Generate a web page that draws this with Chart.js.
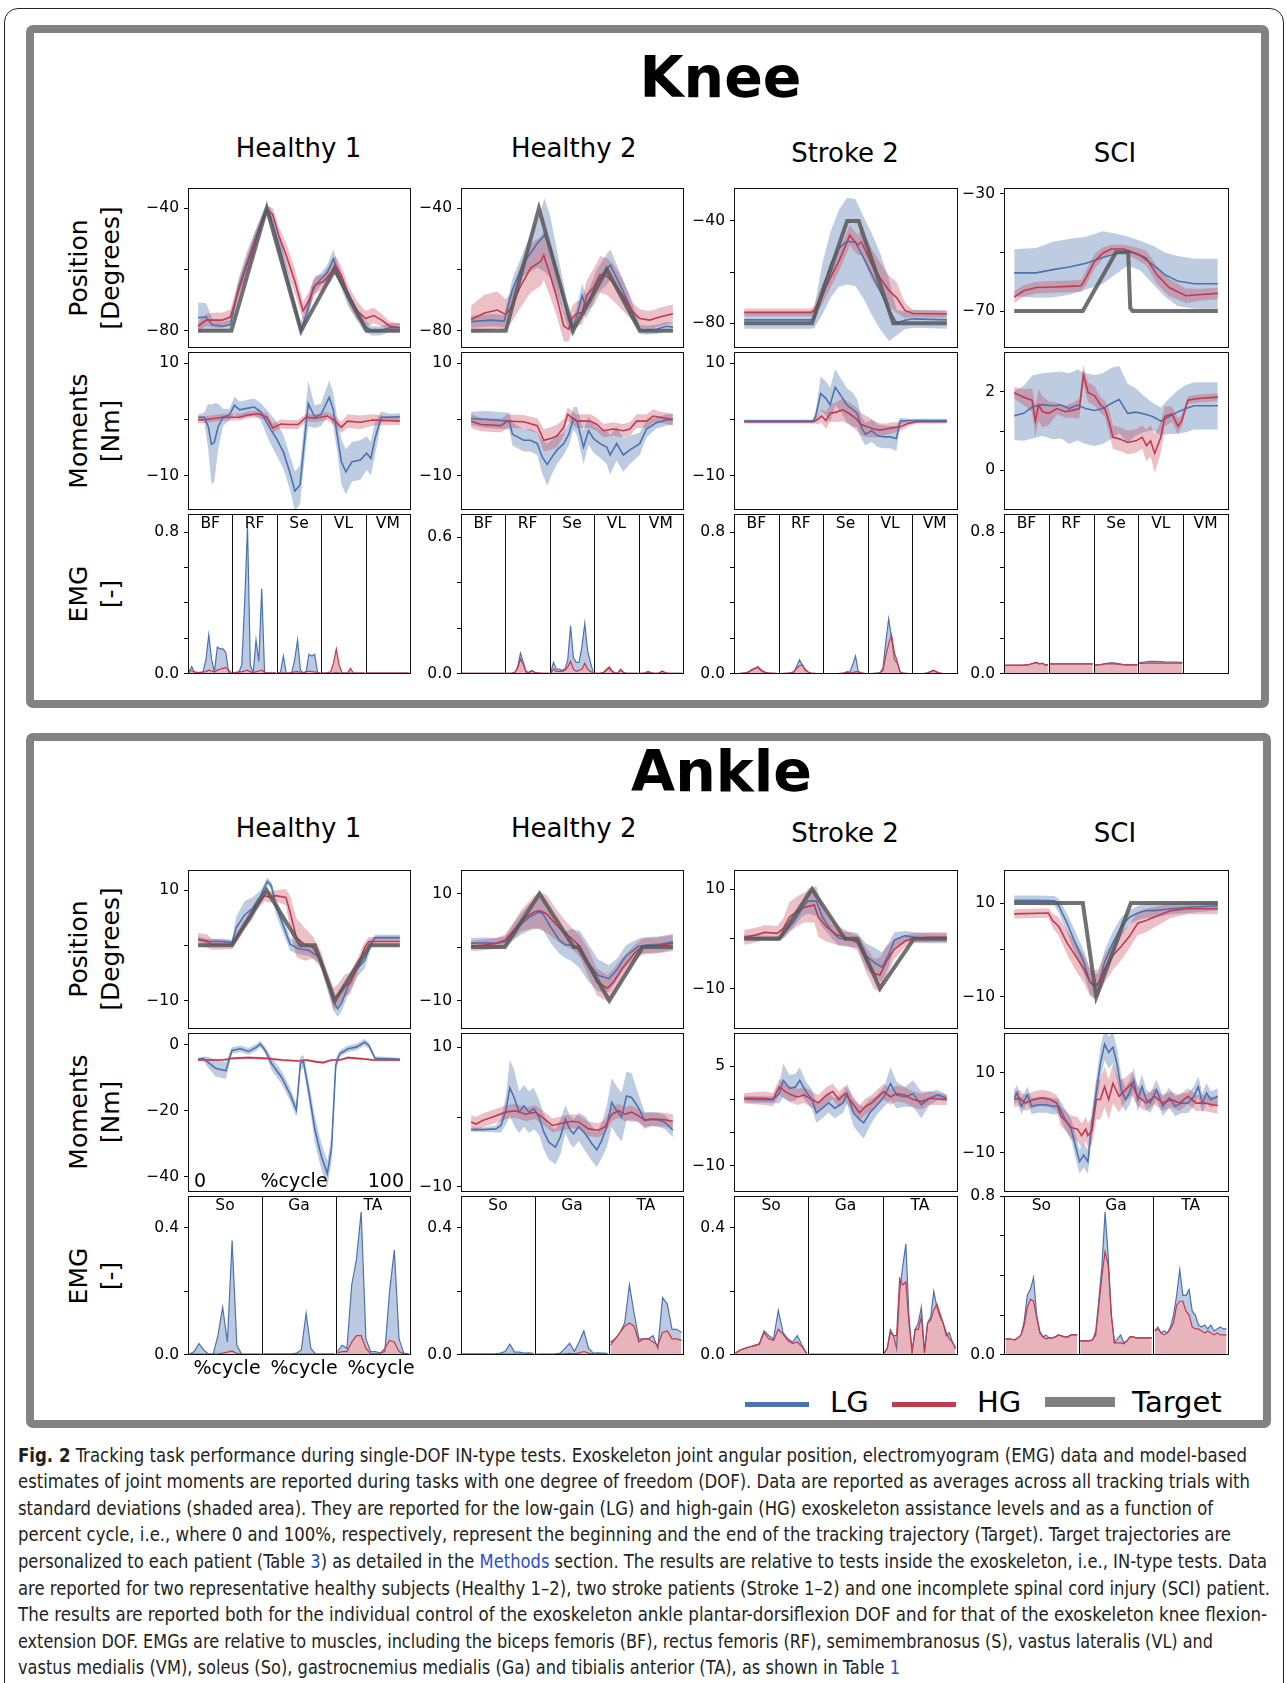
<!DOCTYPE html>
<html>
<head>
<meta charset="utf-8">
<script src="https://cdn.jsdelivr.net/npm/chart.js@4.4.1/dist/chart.umd.min.js"></script>
<style>
  body { margin:0; background:#fff; width:1287px; height:1683px; position:relative; overflow:hidden; font-family:"DejaVu Sans", sans-serif; color:#000; }
  .frame { position:absolute; left:4px; top:8px; width:1280px; height:1720px; border:1.5px solid #222; border-radius:14px; box-sizing:border-box; }
  .gbox { position:absolute; border:8px solid #828282; border-radius:7px; box-sizing:border-box; }
  .txt { position:absolute; white-space:nowrap; }
  .rowlab { position:absolute; width:240px; height:64px; font-size:25px; line-height:32px; text-align:center; transform:rotate(-90deg); white-space:nowrap; }
  .leg { position:absolute; }
  .cap { position:absolute; left:18px; font-family:"Liberation Sans Narrow","DejaVu Sans Condensed","DejaVu Sans",sans-serif; font-size:19px; line-height:19px; color:#231f20; white-space:nowrap; transform-origin:0 0; }
  .cap a { color:#2b4fc4; text-decoration:none; }
</style>
</head>
<body>
<div class="frame"></div>
<div class="gbox" style="left:26px;top:25px;width:1243px;height:683px"></div>
<div class="gbox" style="left:26px;top:733px;width:1245px;height:695px"></div>

<script>
// ---------- data: [percent cycle, mean, sd] ----------
const kneeH1PosLG = [[0,-75.7,5],[4,-75.5,4.5],[7,-78,2],[12,-78.5,1.5],[16,-78,1.5],[20,-66,3],[24,-58,3.5],[28,-50.5,2.5],[32,-43,2],[34,-40.5,1.5],[36,-43,3],[40,-52,4],[44,-62,3],[48,-72,2.5],[51,-79.5,2.5],[54,-74,3],[57,-66,2.5],[61,-63,2],[64,-61,2.5],[67,-56.5,3],[70,-62,2.5],[74,-69,2.5],[78,-74,2],[82,-78,2],[86,-80,1.5],[90,-80,1.5],[95,-79,1.5],[100,-79,1.5]];
const kneeH1PosHG = [[0,-78.5,1.5],[4,-76.5,2],[8,-76.5,2.5],[12,-76.5,2.5],[16,-75.5,2.5],[20,-67,3],[24,-59,3],[28,-51,3],[32,-44,2],[34,-40.5,1.5],[37,-42,2],[40,-49,3],[44,-56,4],[48,-64,4],[52,-73.5,3],[55,-70,3],[58,-65,3],[62,-64,2.5],[66,-61,3],[68,-58.5,3],[71,-62,3],[75,-69,3],[79,-73.5,3],[83,-76,2.5],[87,-75,2.5],[91,-76.5,2],[95,-78.5,1.5],[100,-79,1.5]];
const kneeH1PosTarget = [[0,-80],[16.5,-80],[34,-40],[51,-80],[67.6,-60],[83.5,-80],[100,-80]];

const kneeH2PosLG = [[0,-77,2],[10,-76.5,2],[16.4,-76.8,2],[20.5,-66.5,3.5],[26,-58,4],[33,-51.3,8],[36.4,-48.8,12],[39.3,-52.8,10],[44.3,-65.5,6],[47.5,-74,4],[50.5,-79,3],[52.5,-75,3],[55,-68.5,4],[56.7,-72,4],[59,-69.5,4],[62.3,-64,4],[67.2,-60,5],[69,-58.5,5],[73.8,-65,4],[78.7,-72,3],[83.6,-79.5,1.5],[86.9,-79.8,1.5],[92,-79.5,1.5],[96.7,-78.5,1.5],[100,-78.8,1.5]];
const kneeH2PosHG = [[0,-76.3,4.5],[6.6,-74.2,6],[13,-73.2,6],[17.2,-74.7,5],[19.7,-72.6,5],[24.6,-65.3,7],[29.5,-59.5,8],[34.4,-57.4,8],[36,-55.3,8],[39.3,-62.1,7],[42.6,-69.5,6],[45.9,-78.4,5],[48.4,-79.5,4],[50,-75.9,4],[52.5,-74.3,4],[54.9,-74,4],[57.4,-68.4,5],[60.7,-65.8,6],[63.9,-61.6,6],[67.2,-62.2,6],[70.5,-64.3,6],[75.4,-68.6,5],[80.3,-73.9,3],[83.6,-76,3],[88.5,-76.5,3],[93.4,-75.5,3],[100,-74.4,3]];
const kneeH2PosTarget = [[0,-80],[17.2,-80],[33.6,-40],[50.5,-80],[67.2,-60],[83.6,-80],[100,-80]];

const kneeS2PosLG = [[0,-78.7,3.5],[16,-78.7,3.5],[33,-78.7,3.5],[34.6,-78,4],[38.6,-66.5,10],[42.7,-57,13],[46.7,-50.7,15],[50.8,-47.9,17],[54.9,-48.4,17],[59,-54.5,16],[63,-60.9,16],[67,-67.3,15],[71.5,-75,12],[75.2,-79.8,5],[79.3,-78.9,3.5],[83.3,-78.3,3.5],[100,-78.7,3.5]];
const kneeS2PosHG = [[0,-75.8,1.5],[33,-75.8,1.5],[34.6,-75,2],[38.6,-68.5,4],[42.7,-62,4],[46.7,-55.8,4],[50.8,-48.2,4],[52,-45.6,4],[56,-49.4,4],[57.8,-48.2,5],[63,-57,6],[67,-62.2,6],[71.5,-67.3,6],[75.2,-70,6],[79.3,-75,3],[83.3,-76.2,1.5],[100,-76.4,1.5]];
const kneeS2PosTarget = [[0,-80],[33.5,-80],[50.8,-40],[56.5,-40],[73.6,-80],[100,-80]];

const kneeSCIPosLG = [[0,-57,8],[10.8,-57,8.5],[19,-55.9,9.5],[27,-55,9.5],[35.3,-53.7,9],[43.5,-51.8,9],[49.6,-50.6,7],[55.7,-49.6,5],[61.8,-51.1,5],[68,-54.2,6.5],[74,-57.6,7.5],[80.2,-59.8,8.5],[88.4,-60.7,8.5],[100,-60.7,8.5]];
const kneeSCIPosHG = [[0,-65.3,2],[4.7,-63.1,2],[10.8,-62,2],[19,-61.8,2],[27,-61.6,2],[32.9,-61.4,2],[35.3,-58.7,2.5],[39.4,-53.1,2.5],[43.5,-50.3,2],[47.6,-48.9,1.5],[53.7,-48.9,1.5],[59.8,-50.3,2],[64.9,-52,2.5],[70,-57.6,3],[76.1,-62,3],[84.3,-64.8,2.5],[92,-64.4,2],[100,-64,2]];
const kneeSCIPosTarget = [[0,-70],[33.7,-70],[50,-50],[56,-50],[57,-69],[58.2,-70],[100,-70]];

const kneeH1MomLG = [[0,0.4,0.5],[3,0.4,0.8],[5,-1.2,4],[6.6,-4.4,7],[8,-4.1,7],[10,-1.2,4],[12.4,0.4,1.5],[15.5,0.8,1],[18,2.5,1.5],[20.6,1.7,1.5],[24.7,2,1.5],[27.8,2.2,1.5],[31,1.4,1.5],[35,-1.2,2.5],[39,-3.5,3],[42.3,-5.8,3],[45.4,-9.3,3],[48,-12.7,3.5],[50.5,-11.6,3.5],[52.6,-4.1,3.5],[54.6,2.8,4],[57.7,0.5,2],[60.8,0.8,2],[65,3.9,3],[67,1.7,3],[69,-2.9,3],[71,-7.5,4],[73.2,-9.3,4],[76.3,-7.5,3.5],[80.4,-7.2,3.5],[83.5,-6,3],[85.6,-6.9,3],[87.6,-3.5,3],[90.7,0.4,1],[94.8,0.4,0.6],[100,0.5,0.6]];
const kneeH1MomHG = [[0,-0.1,0.6],[4,0,0.6],[12.4,0.4,0.6],[20.6,0.4,0.6],[24.7,0.8,0.6],[30,1,0.6],[34,0.4,0.7],[37,-1.5,0.8],[41,-0.8,0.8],[45,-0.9,0.8],[49.5,-0.9,0.8],[53.6,0.4,0.7],[57.7,0.2,0.7],[64,0.6,0.7],[68,-0.3,0.8],[71,-1.4,1],[74,-0.3,1.2],[80.4,-0.5,1.2],[86.6,-0.1,1],[92.8,-0.2,0.8],[100,-0.3,0.7]];

const kneeH2MomLG = [[0,0.17,1.2],[8,0,1.5],[18.9,-0.3,1.5],[20.5,-2.6,2],[23,-3.1,2],[26,-3.7,2],[29.5,-3.7,2],[32.8,-4.3,2],[35.2,-6.6,3],[37.7,-8,3.7],[40.2,-6.6,3],[42.6,-5.4,2.5],[45.9,-4.3,2],[48.4,-2.6,2],[50.8,0.2,2],[52.5,-0.3,2.5],[55.7,-4.9,3],[58.2,-2,2.5],[60.7,-3.4,2.5],[63.9,-4.3,2.5],[67.2,-4.9,3],[68.9,-6.3,3.5],[72.1,-4.3,3],[75.4,-6.3,3],[78.7,-5.4,2.5],[83.6,-4.3,2],[86.9,-1.7,1.5],[91.8,-0.6,1],[96.7,-0.1,1],[100,0,1]];
const kneeH2MomHG = [[0,-0.3,1.2],[4.9,-0.9,1.2],[14.8,-1.1,1.2],[18,-0.3,1.2],[26,-0.4,1.2],[32.8,-1.1,1.3],[36,-3.7,2],[39.3,-3.4,2],[42.6,-2.9,2],[45.9,-1.4,1.5],[47.9,0.9,1.2],[50,0.3,1.2],[52.5,-0.3,1.2],[59,-0.3,1.2],[62.3,-0.9,1.2],[65.6,-2,1.2],[70.5,-1.7,1.2],[75.4,-2,1.2],[78.7,-1.7,1.2],[82,-0.3,1.2],[86.9,-0.3,1.2],[90.2,0.6,1.2],[93.4,0.4,1],[100,0,1]];

const kneeS2MomLG = [[0,-0.3,0.3],[34,-0.3,0.3],[35.3,0.6,1],[37.8,4.6,3],[40.4,3.7,3],[42.4,2.6,3],[44.9,5.7,3.2],[47.6,4.3,3],[50.6,2.6,3],[53.7,1.7,3],[55.7,1.1,2.5],[57.8,-1.4,2],[59.8,-2.6,2],[62.9,-2,2],[65.9,-2.9,2],[69,-3.1,2],[72,-3.1,2],[75.1,-3.4,2.2],[77,-0.3,0.6],[81,-0.2,0.3],[100,-0.2,0.3]];
const kneeS2MomHG = [[0,-0.4,0.3],[34,-0.4,0.3],[36.3,0,0.8],[38.2,0.6,1.2],[40.4,-0.2,1.5],[42.4,1.1,1.5],[45.5,1.3,1.8],[48.6,1.7,2],[51.6,1.1,2],[54.7,0.3,2],[57.8,-0.9,2],[60.8,-1.3,1.8],[63.9,-1.7,1.5],[67,-1.9,1.2],[70,-1.7,1],[73,-1.5,1],[77,-1.3,0.8],[81,-0.7,0.5],[85,-0.4,0.3],[100,-0.4,0.3]];

const kneeSCIMomLG = [[0,1.39,0.62],[4.7,1.45,0.7],[8.8,1.61,0.8],[13.9,1.67,0.8],[19,1.64,0.85],[23,1.66,0.85],[27,1.57,0.9],[31,1.66,0.9],[35,1.57,0.9],[39.4,1.52,0.9],[43.5,1.57,0.9],[47.6,1.7,0.9],[51.6,1.8,0.85],[55.7,1.45,0.75],[59.8,1.48,0.6],[63.9,1.43,0.45],[68,1.37,0.35],[72,1.25,0.35],[76,1.37,0.45],[80.2,1.48,0.55],[84.3,1.57,0.6],[88.4,1.64,0.6],[94.5,1.64,0.6],[100,1.64,0.6]];
const kneeSCIMomHG = [[0,1.97,0.15],[4.7,1.86,0.2],[8.8,1.78,0.3],[10.4,1.25,0.4],[12,1.66,0.4],[13.9,1.49,0.4],[17,1.45,0.3],[21,1.57,0.15],[25,1.49,0.15],[29,1.53,0.2],[32,1.57,0.25],[34,2.43,0.25],[36.3,1.98,0.25],[39.4,1.9,0.25],[42.4,1.66,0.2],[44.5,1.57,0.2],[46.5,1.25,0.3],[48.5,0.84,0.3],[51.6,0.8,0.3],[55.7,0.71,0.3],[59.8,0.75,0.3],[62.9,0.84,0.3],[65,0.63,0.4],[67,0.75,0.4],[69,0.43,0.5],[72,0.84,0.4],[74,1.37,0.25],[77.5,1.43,0.2],[80.5,1.12,0.2],[82.2,1.25,0.15],[85.3,1.78,0.1],[89.4,1.82,0.1],[93.5,1.84,0.1],[100,1.86,0.1]];

const anklH1PosLG = [[0,1.1,0.5],[4,0.7,0.5],[12,0.7,0.5],[16.8,0.5,0.5],[18.9,3.2,2],[23,5.5,2.5],[27,6.7,2],[31,9,1],[34.3,11.6,0.7],[36.3,10.8,0.7],[38.4,7.3,1.5],[41.5,4.3,1.5],[45.6,0.2,1.2],[49.7,-0.6,1],[54.8,-0.9,1],[60,-2.1,1],[64,-6.8,1.2],[67.1,-10.3,1.5],[69.2,-11.5,1.5],[71.3,-10.3,1.5],[74.3,-7.4,1.5],[78.4,-4.4,1.5],[82.5,-2.7,1.5],[85.6,0.2,0.8],[87.7,1.4,0.5],[100,1.4,0.5]];
const anklH1PosHG = [[0,1.1,1.2],[4.5,0.8,1.2],[6.6,0.2,1],[16.8,0.1,0.8],[21,2.6,1],[25,4.9,1],[29,7.3,1],[33,9,1],[35.3,8.7,1],[38.4,9,1],[43.5,8.7,1.5],[45.6,6,3],[48.7,1.4,3.5],[52.8,0.2,3],[56.9,-0.4,2],[61,-2.7,1.5],[64,-6.2,1.5],[67.1,-9.7,2],[69.2,-9.1,2],[72.3,-7.4,2],[75.4,-6.8,2],[78.4,-4.4,1.5],[82.5,-0.4,1],[84.6,0.7,0.8],[100,0.7,0.8]];
const anklH1PosTarget = [[0,0],[16.8,0],[33.9,10],[50.7,0],[57.9,0],[67.8,-10],[85.2,0],[100,0]];

const anklH2PosLG = [[0,0.7,1],[6.2,0.8,1],[12.4,0.7,1],[16.8,1,1],[21,2.8,1.5],[25,4.4,2],[29,5.6,2.5],[33.3,6.5,3],[35.4,6.3,3],[39.5,3.7,3],[43.7,1.3,2.5],[46.8,0.4,2.5],[49.7,0.4,3],[54,-0.5,3.5],[58,-2.9,3.5],[63,-5.3,3],[68.3,-5.9,2.5],[72.5,-4.1,2],[76.6,-1.7,2],[82.8,0.1,1.5],[87,0.4,1.5],[93,0.5,1.5],[100,1,1.5]];
const anklH2PosHG = [[0,0.2,1],[6.2,0.4,1],[12.4,0.7,1],[16.8,1.3,1],[21,3.1,1.5],[25,5,2],[31,6.5,3],[34,6.8,3.5],[37.5,6.2,3.5],[41.6,4.4,3],[45.8,2.8,2.5],[49.9,1.6,2],[54,0.1,2],[58,-2.9,2.5],[62.3,-6.5,2.5],[67.5,-7.7,2.5],[70.6,-6.5,2.5],[74.7,-4.1,2],[81,-1.1,1.5],[85,0.1,1.5],[92,0.3,1.5],[100,0.7,1.5]];
const anklH2PosTarget = [[0,0],[16.8,0],[33.9,10],[50.9,0],[53,0],[68.5,-10],[85,0],[100,0]];

const anklS2PosLG = [[0,0.3,0.5],[10.2,0.1,0.5],[17.3,0.1,0.5],[20.3,1.4,1],[24.4,3.4,1],[28.5,6,1.5],[31.5,7.6,2.5],[35.6,7.6,3],[38.6,4.4,2],[42.7,1.8,1.5],[46.7,0.1,1.5],[50.8,-0.1,1.5],[55.9,-0.3,1.5],[60,-3.4,2.5],[64,-4.7,3],[68,-5.7,3],[71.1,-3.4,2.5],[74.2,-0.2,1.5],[79.3,0.6,1],[84.3,0.3,1],[91.5,0.1,1],[100,0.1,1]];
const anklS2PosHG = [[0,0.3,1.5],[6.1,0.8,1.5],[10.2,1.3,1.5],[16.3,1.1,1.5],[19.3,2.1,2],[22.4,4.4,3],[26.4,5.6,3],[29.5,6.3,3],[34.6,6.8,3.5],[36.6,4.4,4],[40.7,2.4,3],[45.7,0.8,2],[50.8,0.1,1.5],[55.9,-0.8,1.5],[60,-4.1,2.5],[64,-7,3],[67,-7.3,3.5],[70,-4.7,3],[74,-2.1,2],[79.3,-0.5,1.2],[83.3,0.1,1],[91.5,0.3,1],[100,0.3,1]];
const anklS2PosTarget = [[0,0],[17.3,0],[33.5,10],[49.8,0],[55.9,0],[67,-10],[83.7,0],[100,0]];

const anklSCIPosLG = [[0,10.6,1],[9.6,10.6,1],[19.8,10.5,1],[21.9,9.4,1.5],[26,5.7,2],[30,1.5,2.5],[34.2,-2.6,2.5],[37.2,-6.8,2.5],[39.3,-7.8,2.5],[41.3,-7.4,2.5],[44.4,-2.6,2.5],[48.5,1.5,2.5],[52.6,5,2],[56.6,7,1.5],[60.7,7.9,1.5],[64.8,8.4,1.5],[68.9,8.4,1.5],[77,8.8,1.2],[85.3,9.1,1.2],[100,9.4,1]];
const anklSCIPosHG = [[0,7.7,1],[16.8,7.9,1],[18.8,6.3,1.5],[21.9,5,2],[26,1.5,2.5],[30,-1.2,3],[34.2,-4,3],[37.2,-6.8,3],[39.3,-7.4,3],[41.3,-7.1,3],[44.4,-4,3],[48.5,-1.2,3],[52.6,0.8,3],[56.6,2.9,2.5],[60.7,5.7,2.5],[64.8,6.3,2.5],[71,7.4,2],[77,8.4,1.5],[85.3,8.8,1.2],[92.6,8.8,1.2],[100,8.8,1.2]];
const anklSCIPosTarget = [[0,10],[33.7,10],[40.3,-10],[57.3,10],[100,10]];

const anklH1MomLG = [[0,-4.4,0.5],[2.5,-4.1,0.5],[4.5,-5.1,1.5],[8.6,-7.1,2.5],[13.8,-7.9,2.5],[15.8,-3.6,1.5],[16.8,-1.7,1],[21,-1.2,1],[25,-2,1],[29,-0.7,1],[30.8,0.3,1],[33.3,-1.7,1],[36.3,-5.6,2],[41.5,-10,2],[45.6,-15,2],[48.7,-19.9,2],[50.7,-5.6,2],[52.2,-5.1,2],[54.8,-14,3],[57.9,-25.8,4],[61,-33.7,4],[64,-39.1,4],[66.1,-31.7,4],[68.2,-6.1,2],[70.2,-2.7,1],[74.3,-1.2,1],[78.4,-0.7,1],[82.5,0.8,1],[84.6,-0.2,1],[87.7,-4.1,0.6],[100,-4.4,0.5]];
const anklH1MomHG = [[0,-4.6,0.4],[12.6,-4.6,0.4],[16.8,-4.1,0.4],[25,-3.9,0.4],[33.3,-4.1,0.4],[41.5,-4.6,0.4],[49.7,-4.9,0.4],[53.8,-4.6,0.4],[57.9,-5.1,0.4],[62,-5.4,0.4],[66.1,-4.6,0.4],[70.2,-4.6,0.4],[74.3,-3.9,0.4],[78.4,-4.1,0.4],[82.5,-4.3,0.4],[86.6,-4.6,0.4],[100,-4.6,0.4]];

const anklH2MomLG = [[0,-1.8,0.3],[5.7,-1.8,0.3],[12.3,-1.7,0.5],[14.8,-1.2,1],[17.2,0.9,2],[19.2,4.2,4],[21.3,2.8,4],[23.8,0.7,3],[26.2,1.6,3],[28.7,0.7,3],[31.1,1.2,3],[33.6,0,2.5],[36,-2.1,2.5],[38.5,-3.6,2.5],[41.8,-4.3,2.5],[44.3,-2.8,2.5],[46.7,-0.3,2],[49.2,-1.9,2],[50.8,-2.4,2],[53.3,-1.4,2],[56.6,-2.4,2.5],[59.8,-3.8,2.5],[62.3,-4.7,2.5],[64.8,-3.3,2.5],[67.2,-1.4,3],[69.7,2.1,3.5],[72.1,0.9,3.5],[74.6,0,3.5],[77,3,3.5],[79.5,2.8,3.5],[82.8,1.4,2],[86,-0.5,1.2],[89.3,-0.3,1],[92.6,-0.4,1],[95.9,-0.7,1],[100,-1.9,1]];
const anklH2MomHG = [[0,-0.7,1],[2.5,-1,1],[5.7,-0.5,1],[10.7,0,1],[17.2,0.7,1],[22.1,0.9,1],[27,0.4,1],[31.9,0.7,1],[36.9,-0.4,1],[40.2,-1.2,1],[45,-0.9,1],[50,-0.6,1],[53.3,-0.7,1],[58.2,-1.7,1],[63.1,-1.9,1],[66.4,-1.4,1],[69.7,0.4,1],[73,0.9,1],[76.2,0.4,1],[79.5,0.7,1],[82.8,0.2,1],[86,-0.4,1],[91,-0.3,1],[95.9,-0.4,1],[100,-0.6,1]];

const anklS2MomLG = [[0,0.1,0.5],[6.1,0,0.5],[14.2,0,0.5],[17.3,0.9,1.5],[19.3,2.9,2.5],[22.4,1.7,2],[25.4,1.9,2],[27.4,2.9,2],[30.5,1.2,1.5],[33.5,0,1.5],[35.6,-2,1.5],[38.6,-1.3,1.5],[41.7,-0.5,1.5],[44.7,-1.3,1.5],[48.8,-0.5,1.5],[50.8,0.9,1.5],[53.9,-2,2],[56.9,-3,2.2],[59,-3.5,2.4],[62,-2,2],[65,-1,1.5],[69,0.4,1.5],[72.2,2.4,2.5],[75.2,0.7,2],[79.3,0.4,1.5],[83.3,0.9,2],[87.4,-0.8,2],[91.5,0.2,1],[95.5,0.7,0.8],[100,0.2,0.5]];
const anklS2MomHG = [[0,0.2,0.8],[10.2,0.2,1],[14.2,0,1],[17.3,1.9,1.2],[20.3,1.2,1.2],[23.4,0.7,1.2],[26.4,0.4,1.2],[29.5,0.7,1.2],[33.5,0,1.2],[36.6,-0.5,1.2],[40.7,0.7,1.2],[43.7,1.2,1.2],[46.7,0,1.2],[49.8,0.9,1.2],[52.8,-0.3,1.2],[56.9,-2,1.2],[60,-1,1.2],[63,-0.5,1.2],[66,0.4,1.2],[69,1.2,1.2],[72.2,0.4,1.2],[75.2,0.9,1.2],[79.3,0.7,1.2],[83.3,0,1.2],[87.4,-0.3,1.2],[91.5,0.2,1],[100,0,0.8]];

const anklSCIMomLG = [[0,3.7,2],[1.4,4.9,2],[3.5,1.6,2],[6.5,4.5,2],[8.6,1.6,2],[11.7,2,2],[15.8,2,2],[18.8,1.6,2],[21.9,1.6,2],[25,-1.6,2.5],[28,-4.1,2.5],[30,-8.1,3],[32.1,-12.2,3],[34.1,-10.6,3],[36.2,-12.2,3],[38.2,-2.4,3],[40.3,4.9,3.5],[42.3,12.2,4],[44.4,17.1,4],[46.4,15,4],[48.5,16.3,4],[50.5,12.2,4],[52.6,5.7,3.5],[54.6,3.3,3],[56.6,4.9,3],[58.7,8.1,3],[60.7,3.3,3],[62.8,6.5,3],[64.8,3.3,2.5],[66.9,2.4,2.5],[69.9,5.7,2.5],[73,1.6,2.5],[76.1,3.7,2.5],[79.1,1.6,2.5],[82.2,2.4,2.5],[85.3,2.4,2.5],[88.3,4.1,2.5],[90.4,6.5,2.5],[92.4,2.4,2.5],[94.5,4.9,2.5],[96.5,3.3,2],[100,4.1,2]];
const anklSCIMomHG = [[0,3.3,2],[2.5,3.7,2],[5.5,2.4,2],[9.6,3.3,2],[13.7,3.7,2],[17.8,3.3,2],[20.9,2.4,2],[22.9,-0.8,2.5],[26,-2.4,2.5],[28,-3.7,3],[31.1,-4.1,3],[33.1,-5.7,3],[35.2,-4.1,3],[36.2,-5.7,3],[38.2,-4.5,3.5],[40.3,3.3,5],[42.3,3.3,5],[44.4,6.5,5],[46.4,3.3,5],[48.5,7.3,5],[51.5,4.1,4],[54.6,5.7,3],[57.7,7.3,3],[60.7,4.1,2.5],[64.8,2.4,2],[68.9,4.1,2],[73,2.4,2],[77,3.3,2],[81.2,2.4,2],[85.3,4.1,2],[89.4,2.4,2],[93.5,2.4,2],[97.5,2,2],[100,1.8,2]];

// ---------- EMG: one array per muscle, values evenly spread over its slot ----------
const kneeMuscles = ['BF','RF','Se','VL','VM'];
const ankleMuscles = ['So','Ga','TA'];

const kneeH1EmgLG = [
  [0.005,0.04,0.005,0.003,0.003,0.01,0.08,0.22,0.08,0.01,0.15,0.14,0.14,0.12,0.005,0.002],
  [0.002,0.005,0.01,0.05,0.4,0.83,0.05,0.005,0.19,0.07,0.48,0.01,0.003,0.002,0.002,0.002],
  [0.003,0.01,0.1,0.005,0.003,0.01,0.08,0.19,0.02,0.005,0.01,0.11,0.1,0.11,0.01,0.003],
  [0.003,0.003,0.003,0.003,0.004,0.008,0.004,0.003,0.003,0.003,0.003,0.003,0.003,0.003,0.003,0.003],
  [0.003,0.003,0.003,0.003,0.003,0.003,0.003,0.003,0.003,0.003,0.003,0.003,0.003,0.003,0.003,0.003]];
const kneeH1EmgHG = [
  [0.02,0.015,0.01,0.008,0.008,0.01,0.012,0.02,0.015,0.01,0.02,0.025,0.03,0.035,0.02,0.005],
  [0.005,0.008,0.01,0.01,0.015,0.02,0.01,0.008,0.01,0.015,0.02,0.008,0.005,0.005,0.005,0.005],
  [0.003,0.004,0.005,0.004,0.004,0.006,0.01,0.012,0.008,0.006,0.01,0.015,0.012,0.01,0.005,0.003],
  [0.003,0.004,0.006,0.01,0.06,0.14,0.05,0.005,0.004,0.005,0.03,0.004,0.003,0.003,0.003,0.003],
  [0.003,0.003,0.003,0.003,0.003,0.003,0.003,0.003,0.003,0.003,0.003,0.003,0.003,0.003,0.003,0.003]];

const kneeH2EmgLG = [
  [0.001,0.001,0.001,0.001,0.001,0.001,0.001,0.001,0.001,0.001,0.001,0.001,0.001,0.001,0.001,0.001],
  [0.001,0.002,0.003,0.005,0.03,0.09,0.05,0.008,0.005,0.015,0.005,0.003,0.002,0.002,0.002,0.002],
  [0.005,0.05,0.02,0.02,0.015,0.02,0.06,0.21,0.07,0.05,0.05,0.12,0.22,0.1,0.05,0.005],
  [0.002,0.002,0.003,0.005,0.015,0.025,0.01,0.003,0.003,0.015,0.005,0.002,0.002,0.002,0.002,0.002],
  [0.002,0.002,0.003,0.008,0.004,0.002,0.002,0.003,0.01,0.004,0.002,0.002,0.002,0.002,0.002,0.002]];
const kneeH2EmgHG = [
  [0.001,0.001,0.001,0.001,0.001,0.001,0.001,0.001,0.001,0.001,0.001,0.001,0.001,0.001,0.001,0.001],
  [0.001,0.002,0.003,0.005,0.025,0.065,0.04,0.008,0.006,0.012,0.006,0.004,0.003,0.002,0.002,0.002],
  [0.003,0.02,0.01,0.01,0.01,0.015,0.03,0.055,0.02,0.01,0.015,0.02,0.045,0.02,0.01,0.003],
  [0.002,0.002,0.003,0.006,0.02,0.03,0.012,0.003,0.004,0.02,0.006,0.002,0.002,0.002,0.002,0.002],
  [0.002,0.002,0.004,0.01,0.005,0.002,0.002,0.004,0.012,0.005,0.002,0.002,0.002,0.002,0.002,0.002]];

const kneeS2EmgLG = [
  [0.001,0.001,0.002,0.003,0.005,0.01,0.02,0.03,0.035,0.02,0.01,0.005,0.003,0.002,0.002,0.001],
  [0.001,0.001,0.002,0.003,0.005,0.01,0.04,0.078,0.05,0.02,0.01,0.003,0.002,0.001,0.001,0.001],
  [0.001,0.001,0.001,0.001,0.001,0.001,0.002,0.003,0.008,0.01,0.05,0.1,0.01,0.003,0.002,0.001],
  [0.001,0.001,0.002,0.003,0.006,0.03,0.18,0.31,0.2,0.08,0.06,0.01,0.003,0.002,0.001,0.001],
  [0.001,0.001,0.001,0.001,0.002,0.004,0.01,0.018,0.01,0.004,0.002,0.001,0.001,0.001,0.001,0.001]];
const kneeS2EmgHG = [
  [0.001,0.001,0.002,0.004,0.006,0.012,0.025,0.03,0.04,0.025,0.012,0.006,0.004,0.003,0.002,0.001],
  [0.001,0.001,0.002,0.003,0.005,0.01,0.03,0.045,0.05,0.025,0.01,0.003,0.002,0.001,0.001,0.001],
  [0.001,0.001,0.001,0.001,0.001,0.001,0.002,0.003,0.012,0.005,0.006,0.01,0.012,0.005,0.002,0.001],
  [0.001,0.001,0.002,0.003,0.005,0.02,0.1,0.17,0.22,0.12,0.07,0.01,0.003,0.002,0.001,0.001],
  [0.001,0.001,0.001,0.001,0.002,0.005,0.012,0.02,0.012,0.005,0.002,0.001,0.001,0.001,0.001,0.001]];

const kneeSCIEmgLG = [
  [0.046,0.047,0.047,0.047,0.047,0.047,0.047,0.048,0.05,0.055,0.058,0.062,0.055,0.058,0.05,0.05],
  [0.055,0.055,0.055,0.055,0.055,0.055,0.055,0.055,0.055,0.055,0.055,0.055,0.055,0.055,0.055,0.055],
  [0.05,0.05,0.052,0.055,0.058,0.06,0.062,0.06,0.058,0.055,0.052,0.05,0.05,0.05,0.05,0.05],
  [0.062,0.064,0.066,0.068,0.07,0.07,0.07,0.068,0.068,0.066,0.066,0.066,0.065,0.065,0.064,0.064],
  []];
const kneeSCIEmgHG = [
  [0.048,0.048,0.048,0.048,0.048,0.048,0.048,0.05,0.05,0.055,0.06,0.065,0.055,0.06,0.05,0.05],
  [0.055,0.055,0.055,0.055,0.055,0.055,0.055,0.055,0.055,0.055,0.055,0.055,0.055,0.055,0.055,0.055],
  [0.05,0.05,0.05,0.052,0.055,0.056,0.056,0.055,0.054,0.052,0.05,0.05,0.05,0.05,0.05,0.05],
  [0.058,0.058,0.06,0.06,0.06,0.06,0.06,0.06,0.06,0.06,0.06,0.06,0.06,0.06,0.06,0.06],
  []];

const anklH1EmgLG = [
  [0.002,0.01,0.035,0.015,0.002,0.002,0.06,0.15,0.04,0.36,0.03,0.002,0.001,0.001,0.001,0.001],
  [0.002,0.002,0.002,0.002,0.002,0.002,0.003,0.005,0.015,0.13,0.02,0.002,0.002,0.002,0.002,0.002],
  [0.01,0.03,0.02,0.22,0.3,0.45,0.05,0.01,0.01,0.005,0.01,0.2,0.33,0.05,0.005,0.003]];
const anklH1EmgHG = [
  [0.002,0.002,0.002,0.002,0.002,0.002,0.003,0.005,0.008,0.012,0.004,0.002,0.002,0.002,0.002,0.002],
  [0.002,0.002,0.002,0.002,0.002,0.002,0.002,0.002,0.002,0.002,0.002,0.002,0.002,0.002,0.002,0.002],
  [0.005,0.01,0.01,0.04,0.06,0.06,0.02,0.003,0.003,0.003,0.02,0.045,0.04,0.01,0.003,0.002]];

const anklH2EmgLG = [
  [0.002,0.002,0.002,0.002,0.002,0.002,0.002,0.003,0.005,0.01,0.033,0.008,0.008,0.005,0.006,0.004],
  [0.002,0.002,0.002,0.002,0.003,0.005,0.02,0.036,0.01,0.04,0.075,0.02,0.005,0.006,0.005,0.004],
  [0.03,0.05,0.07,0.1,0.22,0.13,0.05,0.05,0.05,0.06,0.02,0.18,0.16,0.08,0.08,0.07]];
const anklH2EmgHG = [
  [0.002,0.002,0.002,0.002,0.002,0.002,0.002,0.002,0.002,0.002,0.002,0.002,0.002,0.002,0.002,0.002],
  [0.001,0.001,0.001,0.001,0.001,0.002,0.003,0.004,0.003,0.006,0.01,0.005,0.002,0.002,0.002,0.002],
  [0.04,0.05,0.07,0.09,0.1,0.09,0.04,0.05,0.05,0.04,0.03,0.07,0.075,0.05,0.05,0.045]];

const anklS2EmgLG = [
  [0.005,0.015,0.02,0.025,0.03,0.035,0.075,0.06,0.05,0.14,0.07,0.05,0.04,0.06,0.03,0.003],
  [0.001,0.001,0.001,0.001,0.001,0.001,0.001,0.001,0.001,0.001,0.001,0.001,0.001,0.001,0.001,0.001],
  [0.005,0.02,0.08,0.06,0.02,0.2,0.28,0.35,0.12,0.01,0.08,0.1,0.15,0.01,0.1,0.12,0.2,0.15,0.12,0.1,0.06,0.07,0.04,0.02]];
const anklS2EmgHG = [
  [0.005,0.015,0.02,0.025,0.028,0.032,0.07,0.05,0.045,0.08,0.065,0.045,0.035,0.04,0.025,0.003],
  [0.001,0.001,0.001,0.001,0.001,0.001,0.001,0.001,0.001,0.001,0.001,0.001,0.001,0.001,0.001,0.001],
  [0.005,0.02,0.07,0.06,0.06,0.24,0.22,0.23,0.1,0.01,0.08,0.08,0.12,0.005,0.1,0.11,0.14,0.16,0.13,0.1,0.07,0.05,0.04,0.02]];

const anklSCIEmgLG = [
  [0.08,0.08,0.078,0.075,0.085,0.1,0.17,0.3,0.33,0.39,0.2,0.12,0.09,0.1,0.085,0.085,0.09,0.1,0.095,0.09,0.09,0.1,0.1,0.1],
  [0.07,0.07,0.07,0.07,0.075,0.12,0.28,0.45,0.72,0.5,0.2,0.06,0.08,0.1,0.06,0.07,0.09,0.09,0.085,0.085,0.085,0.085,0.085,0.085],
  [0.12,0.14,0.11,0.12,0.11,0.14,0.2,0.3,0.43,0.3,0.3,0.33,0.22,0.2,0.15,0.14,0.15,0.13,0.15,0.12,0.13,0.14,0.13,0.13]];
const anklSCIEmgHG = [
  [0.08,0.08,0.078,0.075,0.085,0.1,0.15,0.24,0.28,0.27,0.19,0.11,0.09,0.08,0.085,0.085,0.09,0.1,0.095,0.09,0.09,0.1,0.1,0.1],
  [0.07,0.07,0.07,0.07,0.075,0.1,0.25,0.4,0.52,0.45,0.2,0.06,0.06,0.06,0.055,0.07,0.09,0.09,0.085,0.085,0.085,0.085,0.085,0.085],
  [0.12,0.13,0.11,0.1,0.11,0.13,0.16,0.25,0.27,0.27,0.22,0.2,0.14,0.13,0.13,0.12,0.11,0.12,0.11,0.1,0.11,0.1,0.1,0.1]];

// ---------- axes ----------
const subjects = ['Healthy 1','Healthy 2','Stroke 2','SCI'];
const kneePosRange = [[-85.5,-33.5],[-85.5,-33.5],[-89.6,-27.2],[-82.5,-28.2]];
const kneePosTicks = [[-80,-60,-40],[-80,-60,-40],[-80,-60,-40],[-70,-50,-30]];
const kneePosShown = [[-80,-40],[-80,-40],[-80,-40],[-70,-30]];
const kneeMomRange = [[-16,11.9],[-16,11.9],[-16,11.9],[-1,3]];
const kneeMomTicks = [[-10,0,10],[-10,0,10],[-10,0,10],[0,1,2]];
const kneeMomShown = [[-10,10],[-10,10],[-10,10],[0,2]];
const kneeEmgRange = [[0,0.9],[0,0.7],[0,0.9],[0,0.9]];
const kneeEmgTicks = [[0,0.2,0.4,0.6,0.8],[0,0.2,0.4,0.6],[0,0.2,0.4,0.6,0.8],[0,0.2,0.4,0.6,0.8]];
const kneeEmgShown = [[0,0.8],[0,0.6],[0,0.8],[0,0.8]];
const anklPosRange = [[-15.1,13.6],[-15.25,14.35],[-18.1,13.8],[-16.8,17]];
const anklPosTicks = [[-10,0,10],[-10,0,10],[-10,0,10],[-10,0,10]];
const anklPosShown = [[-10,10],[-10,10],[-10,10],[-10,10]];
const anklMomRange = [[-44.6,3.5],[-10.7,12],[-13.9,10],[-19.7,19.8]];
const anklMomTicks = [[-40,-20,0],[-10,0,10],[-10,-5,0,5],[-10,0,10]];
const anklMomShown = [[-40,-20,0],[-10,10],[-10,5],[-10,10]];
const anklEmgRange = [[0,0.5],[0,0.5],[0,0.5],[0,0.8]];
const anklEmgTicks = [[0,0.2,0.4],[0,0.2,0.4],[0,0.2,0.4],[0,0.2,0.4,0.6,0.8]];
const anklEmgShown = [[0,0.4],[0,0.4],[0,0.4],[0,0.8]];

// layout (px)
const colX = [[188,410],[461,683],[734,957],[1004,1228]];
const kneeRows = [[186,350],[350,512],[512,676]];
const anklRows = [[868,1031],[1031,1194],[1194,1357]];

const LG_COLOR = '#4c72b0', HG_COLOR = '#c13a50';
const LG_BAND = 'rgba(76,114,176,0.36)', HG_BAND = 'rgba(193,58,80,0.32)';
const LG_EMG = 'rgba(76,114,176,0.38)', HG_EMG = 'rgba(193,58,80,0.38)';
const TARGET_COLOR = 'rgba(88,88,88,0.85)';

Chart.defaults.color = '#000';
Chart.defaults.font.family = '"DejaVu Sans", sans-serif';

const framePlugin = {
  id: 'frame',
  afterDatasetsDraw(chart, args, opts) {
    const ctx = chart.ctx, a = chart.chartArea, xs = chart.scales.x;
    ctx.save();
    ctx.strokeStyle = '#111';
    ctx.lineWidth = 1;
    if (opts.muscles) {
      ctx.beginPath();
      for (let i = 1; i < opts.muscles.length; i++) {
        const x = Math.round(xs.getPixelForValue(i)) + 0.5;
        ctx.moveTo(x, a.top); ctx.lineTo(x, a.bottom);
      }
      ctx.stroke();
      ctx.fillStyle = '#000';
      ctx.font = '15.5px "DejaVu Sans"';
      ctx.textAlign = 'center';
      ctx.textBaseline = 'top';
      opts.muscles.forEach((m, i) => ctx.fillText(m, xs.getPixelForValue(i + 0.5), a.top + 2));
    }
    ctx.strokeRect(Math.round(a.left) + 0.5, Math.round(a.top) + 0.5, Math.round(a.width), Math.round(a.height));
    ctx.restore();
  }
};

function makeCanvas(l, r, t, b) {
  const c = document.createElement('canvas');
  const w = r - l + 62, h = b - t + 24;
  c.width = w; c.height = h;
  c.style.cssText = `position:absolute;left:${l-60}px;top:${t-12}px;width:${w}px;height:${h}px`;
  document.body.appendChild(c);
  return c;
}

function fmt(v, emg) {
  if (emg) return v.toFixed(1);
  return v < 0 ? '\u2212' + Math.abs(v) : String(v);
}

function makeChart(canvas, datasets, xr, yr, ticks, shown, muscles, emg) {
  return new Chart(canvas, {
    type: 'line',
    data: { datasets },
    options: {
      responsive: false, animation: false, devicePixelRatio: 1, events: [],
      layout: { padding: { left: 0, right: 2, top: 12, bottom: 12 } },
      elements: { line: { tension: 0 }, point: { radius: 0 } },
      plugins: { legend: { display: false }, tooltip: { enabled: false }, frame: { muscles } },
      scales: {
        x: { type: 'linear', min: xr[0], max: xr[1], display: false },
        y: {
          min: yr[0], max: yr[1],
          afterBuildTicks: s => { s.ticks = ticks.map(v => ({ value: v })); },
          afterFit: s => { s.width = 60; },
          ticks: { autoSkip: false, padding: 5, color: '#000', font: { size: 15.5 },
                   callback: v => shown.includes(v) ? fmt(v, emg) : '' },
          grid: { drawOnChartArea: false, drawTicks: true, tickLength: 4, color: '#000', lineWidth: 1 },
          border: { display: false }
        }
      }
    },
    plugins: [framePlugin]
  });
}

function band(tri, fill, order) {
  return [
    { data: tri.map(p => ({ x: p[0], y: p[1] - p[2] })), borderWidth: 0, fill: false, order },
    { data: tri.map(p => ({ x: p[0], y: p[1] + p[2] })), borderWidth: 0, fill: '-1', backgroundColor: fill, order }
  ];
}
function meanLine(tri, color, order) {
  return { data: tri.map(p => ({ x: p[0], y: p[1] })), borderColor: color, borderWidth: 1.6, fill: false, order };
}

function curvePanel(box, yr, ticks, shown, lg, hg, target) {
  const ds = [...band(lg, LG_BAND, 6), ...band(hg, HG_BAND, 5), meanLine(lg, LG_COLOR, 3), meanLine(hg, HG_COLOR, 2)];
  if (target) ds.push({ data: target.map(p => ({ x: p[0], y: p[1] })), borderColor: TARGET_COLOR, borderWidth: 4, fill: false, order: 1 });
  makeChart(makeCanvas(...box), ds, [-5, 105], yr, ticks, shown, null, false);
}

function emgPoints(groups) {
  const pts = [];
  groups.forEach((vals, m) => {
    const n = vals.length;
    vals.forEach((v, j) => pts.push({ x: m + 0.02 + 0.96 * j / (n - 1), y: v }));
    pts.push({ x: m + 0.995, y: null });
  });
  return pts;
}

// LG area is shaded only where it rises above the HG area, which sits on top
function emgPanel(box, yr, ticks, shown, muscles, lg, hg) {
  const ds = [
    { data: emgPoints(lg), borderColor: LG_COLOR, borderWidth: 1.2, fill: { target: '+1', above: LG_EMG, below: 'rgba(0,0,0,0)' }, spanGaps: false, order: 2 },
    { data: emgPoints(hg), borderColor: HG_COLOR, borderWidth: 1.2, fill: 'origin', backgroundColor: HG_EMG, spanGaps: false, order: 1 }
  ];
  makeChart(makeCanvas(...box), ds, [0, muscles.length], yr, ticks, shown, muscles, true);
}

const kneePos = [[kneeH1PosLG,kneeH1PosHG,kneeH1PosTarget],[kneeH2PosLG,kneeH2PosHG,kneeH2PosTarget],[kneeS2PosLG,kneeS2PosHG,kneeS2PosTarget],[kneeSCIPosLG,kneeSCIPosHG,kneeSCIPosTarget]];
const kneeMom = [[kneeH1MomLG,kneeH1MomHG],[kneeH2MomLG,kneeH2MomHG],[kneeS2MomLG,kneeS2MomHG],[kneeSCIMomLG,kneeSCIMomHG]];
const kneeEmg = [[kneeH1EmgLG,kneeH1EmgHG],[kneeH2EmgLG,kneeH2EmgHG],[kneeS2EmgLG,kneeS2EmgHG],[kneeSCIEmgLG,kneeSCIEmgHG]];
const anklPos = [[anklH1PosLG,anklH1PosHG,anklH1PosTarget],[anklH2PosLG,anklH2PosHG,anklH2PosTarget],[anklS2PosLG,anklS2PosHG,anklS2PosTarget],[anklSCIPosLG,anklSCIPosHG,anklSCIPosTarget]];
const anklMom = [[anklH1MomLG,anklH1MomHG],[anklH2MomLG,anklH2MomHG],[anklS2MomLG,anklS2MomHG],[anklSCIMomLG,anklSCIMomHG]];
const anklEmg = [[anklH1EmgLG,anklH1EmgHG],[anklH2EmgLG,anklH2EmgHG],[anklS2EmgLG,anklS2EmgHG],[anklSCIEmgLG,anklSCIEmgHG]];

for (let c = 0; c < 4; c++) {
  const [l, r] = colX[c];
  curvePanel([l, r, ...kneeRows[0]], kneePosRange[c], kneePosTicks[c], kneePosShown[c], ...kneePos[c]);
  curvePanel([l, r, ...kneeRows[1]], kneeMomRange[c], kneeMomTicks[c], kneeMomShown[c], ...kneeMom[c], null);
  emgPanel([l, r, ...kneeRows[2]], kneeEmgRange[c], kneeEmgTicks[c], kneeEmgShown[c], kneeMuscles, ...kneeEmg[c]);
  curvePanel([l, r, ...anklRows[0]], anklPosRange[c], anklPosTicks[c], anklPosShown[c], ...anklPos[c]);
  curvePanel([l, r, ...anklRows[1]], anklMomRange[c], anklMomTicks[c], anklMomShown[c], ...anklMom[c], null);
  emgPanel([l, r, ...anklRows[2]], anklEmgRange[c], anklEmgTicks[c], anklEmgShown[c], ankleMuscles, ...anklEmg[c]);
}

// ---------- text ----------
function label(text, x, base, size, align, weight) {
  const d = document.createElement('div');
  d.className = 'txt';
  d.textContent = text;
  d.style.fontSize = size + 'px';
  d.style.lineHeight = size + 'px';
  d.style.top = (base - 0.846 * size) + 'px';
  if (weight) d.style.fontWeight = weight;
  if (align === 'center') { d.style.left = (x - 400) + 'px'; d.style.width = '800px'; d.style.textAlign = 'center'; }
  else if (align === 'right') { d.style.left = (x - 800) + 'px'; d.style.width = '800px'; d.style.textAlign = 'right'; }
  else d.style.left = x + 'px';
  document.body.appendChild(d);
  return d;
}

label('Knee', 720.5, 97, 57, 'center', 'bold');
label('Ankle', 721.5, 791, 57, 'center', 'bold');
const titleX = [298.5, 573.7, 845, 1115];
const kneeTitleBase = [156.7, 156.7, 161.7, 161.7];
const anklTitleBase = [837.3, 837.3, 842.3, 842.3];
subjects.forEach((s, i) => {
  label(s, titleX[i], kneeTitleBase[i], 26, 'center');
  label(s, titleX[i], anklTitleBase[i], 26, 'center');
});

function rowLabel(lines, cy) {
  const d = document.createElement('div');
  d.className = 'rowlab';
  d.innerHTML = lines.join('<br>');
  d.style.left = (95 - 120) + 'px';
  d.style.top = (cy - 32) + 'px';
  document.body.appendChild(d);
}
rowLabel(['Position', '[Degrees]'], 268);
rowLabel(['Moments', '[Nm]'], 431);
rowLabel(['EMG', '[-]'], 594);
rowLabel(['Position', '[Degrees]'], 949);
rowLabel(['Moments', '[Nm]'], 1112);
rowLabel(['EMG', '[-]'], 1276);

// axis words inside / under the first ankle column
label('0', 194, 1187, 19, 'left');
label('%cycle', 294, 1187, 19, 'center');
label('100', 404, 1187, 19, 'right');
[227, 304, 381].forEach(x => label('%cycle', x, 1374, 19, 'center'));

// legend
function legLine(l, w, cy, h, color) {
  const d = document.createElement('div');
  d.className = 'leg';
  d.style.cssText = `position:absolute;left:${l}px;top:${cy - h / 2}px;width:${w}px;height:${h}px;background:${color}`;
  document.body.appendChild(d);
}
legLine(745, 64, 1404.3, 5, LG_COLOR);
legLine(892, 64, 1404.3, 5, HG_COLOR);
legLine(1045, 70, 1402, 10, '#808080');
label('LG', 830, 1413, 29, 'left');
label('HG', 977, 1413, 29, 'left');
label('Target', 1132, 1413, 29, 'left');

// caption
const captionLines = [
  '<b>Fig. 2</b> Tracking task performance during single-DOF IN-type tests. Exoskeleton joint angular position, electromyogram (EMG) data and model-based',
  'estimates of joint moments are reported during tasks with one degree of freedom (DOF). Data are reported as averages across all tracking trials with',
  'standard deviations (shaded area). They are reported for the low-gain (LG) and high-gain (HG) exoskeleton assistance levels and as a function of',
  'percent cycle, i.e., where 0 and 100%, respectively, represent the beginning and the end of the tracking trajectory (Target). Target trajectories are',
  'personalized to each patient (Table <a>3</a>) as detailed in the <a>Methods</a> section. The results are relative to tests inside the exoskeleton, i.e., IN-type tests. Data',
  'are reported for two representative healthy subjects (Healthy 1\u20132), two stroke patients (Stroke 1\u20132) and one incomplete spinal cord injury (SCI) patient.',
  'The results are reported both for the individual control of the exoskeleton ankle plantar-dorsiflexion DOF and for that of the exoskeleton knee flexion-',
  'extension DOF. EMGs are relative to muscles, including the biceps femoris (BF), rectus femoris (RF), semimembranosus (S), vastus lateralis (VL) and',
  'vastus medialis (VM), soleus (So), gastrocnemius medialis (Ga) and tibialis anterior (TA), as shown in Table <a>1</a>'
];
const captionWidths = [1229, 1232, 1195, 1213, 1249, 1252, 1249, 1195, 882];
captionLines.forEach((html, i) => {
  const d = document.createElement('div');
  d.className = 'cap';
  d.innerHTML = html;
  d.style.top = (1460.5 + 26.6 * i - 15) + 'px';
  document.body.appendChild(d);
  const w = d.getBoundingClientRect().width;
  d.style.transform = `scaleX(${captionWidths[i] / w})`;
});
</script>
</body>
</html>
